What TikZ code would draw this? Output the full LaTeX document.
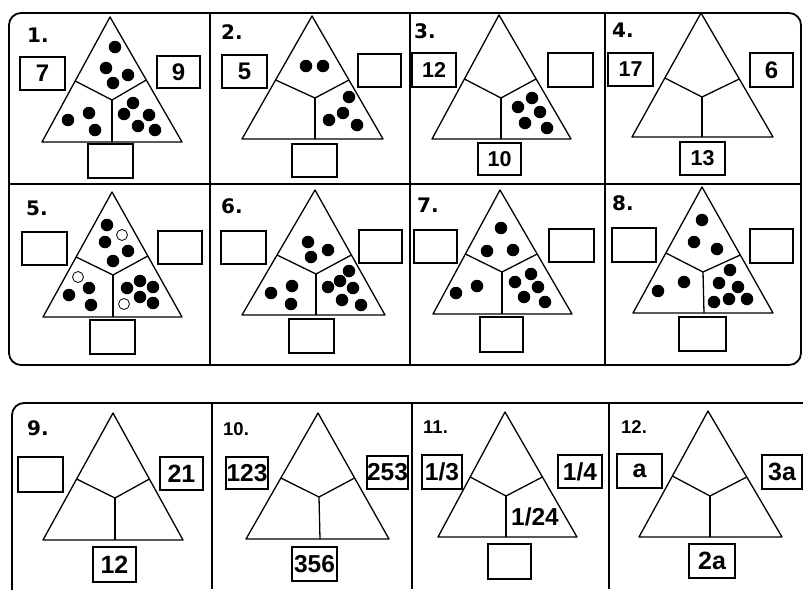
\documentclass[tikz,border=0pt]{standalone}
\usepackage{fontspec}
\setmainfont{Liberation Sans}
\newfontfamily\djfont{DejaVu Sans}
\tikzset{
  frame/.style={line width=1.8pt, rounded corners=12pt},
  sep/.style={line width=1.6pt},
  tri/.style={line width=1.3pt, line join=round},
  box/.style={draw, line width=1.3pt, inner sep=0pt, font=\bfseries\fontsize{21.5}{21.5}\selectfont},
  bigbox/.style={box, font=\bfseries\fontsize{24}{24}\selectfont},
  lowbox/.style={box, font=\bfseries\fontsize{25}{25}\selectfont},
  widebox/.style={box, font=\bfseries\fontsize{24.5}{24.5}\selectfont},
  dot/.style={circle, fill=black, inner sep=0pt, minimum size=12.5pt},
  odot/.style={circle, draw, line width=0.8pt, inner sep=0pt, minimum size=11pt},
  num/.style={anchor=base west, inner sep=0pt, font=\djfont\bfseries\fontsize{20}{20}\selectfont},
  lownum/.style={anchor=base west, inner sep=0pt, font=\bfseries\fontsize{18.5}{18.5}\selectfont},
}
% name, apex, base-left, base-right, left-junction, right-junction, centre, base-vertical
\newcommand\mytree[8]{%
  \coordinate (#1a) at #2; \coordinate (#1bl) at #3; \coordinate (#1br) at #4;
  \coordinate (#1lj) at #5; \coordinate (#1rj) at #6; \coordinate (#1c) at #7;
  \coordinate (#1bv) at #8;
  \draw[tri] (#1a) -- (#1bl) -- (#1br) -- cycle;
  \draw[tri] (#1lj) -- (#1c) -- (#1rj);
  \draw[tri] (#1c) -- (#1bv);
}
\newcommand\mydotset[3]{%
  \foreach \p [count=\i] in {#3} \node[#2] (#1\i) at \p {};
}
\begin{document}
\begin{tikzpicture}[x=1pt,y=-1pt]
\useasboundingbox (0,0) rectangle (803,589);
\begin{scope}
\clip (0,0) rectangle (803,589);
% ---------- top block ----------
\draw[frame] (9,13) rectangle (801,365);
\draw[sep] (9,184) -- (801,184);
\draw[sep] (210,13) -- (210,365);
\draw[sep] (410,13) -- (410,365);
\draw[sep] (605,13) -- (605,365);
% ---------- bottom block ----------
\draw[frame] (12,403) rectangle (818,625);
\draw[sep] (212,403) -- (212,589);
\draw[sep] (412,403) -- (412,589);
\draw[sep] (609,403) -- (609,589);
\end{scope}

% ---------- labels ----------
\node[num] (n1) at (27,42) {1.};
\node[num] (n2) at (221,39) {2.};
\node[num] (n3) at (414,38) {3.};
\node[num] (n4) at (612,37) {4.};
\node[num] (n5) at (26,215) {5.};
\node[num] (n6) at (221,213) {6.};
\node[num] (n7) at (417,212) {7.};
\node[num] (n8) at (612,210) {8.};
\node[num] (n9) at (27,435) {9.};
\node[lownum] (n10) at (223,435) {10.};
\node[lownum] (n11) at (423,433) {11.};
\node[lownum] (n12) at (621,433) {12.};

% ---------- trees ----------
\mytree{t1}{(110,17)}{(42,142)}{(182,142)}{(75.2,81)}{(146.3,80)}{(112,100)}{(112,142)}
\mytree{t2}{(312,16)}{(242,139)}{(383,139)}{(275.6,80)}{(349,80)}{(315,98)}{(315,139)}
\mytree{t3}{(499,15)}{(432,139)}{(571,139)}{(464.4,79)}{(536,79)}{(501,98)}{(501,139)}
\mytree{t4}{(701,13)}{(632,137)}{(773,137)}{(664.8,78)}{(739.3,79)}{(702,97)}{(702,137)}
\mytree{t5}{(112,192)}{(43,317)}{(182,317)}{(76.1,257)}{(147.8,256)}{(113,275)}{(113,317)}
\mytree{t6}{(315,190)}{(242,315)}{(385,315)}{(277,255)}{(351.4,255)}{(316,274)}{(316,315)}
\mytree{t7}{(500,190)}{(433,314)}{(572,314)}{(465.4,254)}{(537.2,254)}{(502,272)}{(502,314)}
\mytree{t8}{(702,187)}{(633,313)}{(773,313)}{(665.9,253)}{(740.3,255)}{(703,272)}{(704,313)}
\mytree{t9}{(113,413)}{(43,540)}{(183,540)}{(76.6,479)}{(149.4,479)}{(115,498)}{(115,540)}
\mytree{t10}{(318,413)}{(246,539)}{(389,539)}{(280.9,478)}{(354.6,478)}{(319,497)}{(320,539)}
\mytree{t11}{(505,412)}{(438,537)}{(577,537)}{(470.2,477)}{(542.4,477)}{(506,496)}{(506,537)}
\mytree{t12}{(708,411)}{(639,537)}{(782,537)}{(672.4,476)}{(746.8,477)}{(710,496)}{(710,537)}

% ---------- boxes ----------
\node[bigbox, minimum width=45pt, minimum height=33pt] (b1l) at (42.5,73.5) {7};
\node[bigbox, minimum width=43pt, minimum height=32pt] (b1r) at (178.5,72) {9};
\node[box, minimum width=45pt, minimum height=34pt] (b1b) at (110.5,161) {};

\node[bigbox, minimum width=45pt, minimum height=33pt] (b2l) at (244.5,71.5) {5};
\node[box, minimum width=43pt, minimum height=33pt] (b2r) at (379.5,70.5) {};
\node[box, minimum width=45pt, minimum height=33pt] (b2b) at (314.5,160.5) {};

\node[box, minimum width=44pt, minimum height=34pt] (b3l) at (434,70) {12};
\node[box, minimum width=45pt, minimum height=34pt] (b3r) at (570.5,70) {};
\node[box, minimum width=43pt, minimum height=32pt] (b3b) at (499.5,159) {10};

\node[box, minimum width=45pt, minimum height=33pt] (b4l) at (630.5,69.5) {17};
\node[bigbox, minimum width=43pt, minimum height=34pt] (b4r) at (771.5,70) {6};
\node[box, minimum width=45pt, minimum height=33pt] (b4b) at (702.5,158.5) {13};

\node[box, minimum width=45pt, minimum height=33pt] (b5l) at (44.5,248.5) {};
\node[box, minimum width=44pt, minimum height=33pt] (b5r) at (180,247.5) {};
\node[box, minimum width=45pt, minimum height=34pt] (b5b) at (112.5,337) {};

\node[box, minimum width=45pt, minimum height=33pt] (b6l) at (243.5,247.5) {};
\node[box, minimum width=43pt, minimum height=33pt] (b6r) at (380.5,246.5) {};
\node[box, minimum width=45pt, minimum height=34pt] (b6b) at (311.5,336) {};

\node[box, minimum width=43pt, minimum height=33pt] (b7l) at (435.5,246.5) {};
\node[box, minimum width=45pt, minimum height=33pt] (b7r) at (571.5,245.5) {};
\node[box, minimum width=43pt, minimum height=35pt] (b7b) at (501.5,334.5) {};

\node[box, minimum width=44pt, minimum height=34pt] (b8l) at (634,245) {};
\node[box, minimum width=43pt, minimum height=34pt] (b8r) at (771.5,246) {};
\node[box, minimum width=47pt, minimum height=34pt] (b8b) at (702.5,334) {};

\node[lowbox, minimum width=45pt, minimum height=35pt] (b9l) at (40.5,474.5) {};
\node[lowbox, minimum width=43pt, minimum height=33pt] (b9r) at (181.5,473.5) {21};
\node[lowbox, minimum width=43pt, minimum height=35pt] (b9b) at (114.5,564.5) {12};

\node[widebox, minimum width=42pt, minimum height=32pt] (b10l) at (247,473) {123};
\node[widebox, minimum width=41pt, minimum height=33pt] (b10r) at (387.5,472.5) {253};
\node[widebox, minimum width=45pt, minimum height=34pt] (b10b) at (314.5,564) {356};

\node[widebox, minimum width=40pt, minimum height=34pt] (b11l) at (442,472) {1/3};
\node[widebox, minimum width=44pt, minimum height=33pt] (b11r) at (580,471.5) {1/4};
\node[lowbox, minimum width=43pt, minimum height=35pt] (b11b) at (509.5,561.5) {};
\node[inner sep=0pt, font=\bfseries\fontsize{24.5}{24.5}\selectfont] (t11v) at (535,517) {1/24};

\node[lowbox, minimum width=45pt, minimum height=34pt] (b12l) at (639.5,471) {a};
\node[lowbox, minimum width=40pt, minimum height=34pt] (b12r) at (782,472) {3a};
\node[lowbox, minimum width=46pt, minimum height=34pt] (b12b) at (712,561) {2a};

% ---------- dots ----------
\mydotset{d1t}{dot}{(115,47),(106,68),(128,75),(113,83)}
\mydotset{d1l}{dot}{(68,120),(89,113),(95,130)}
\mydotset{d1r}{dot}{(133,103),(124,114),(149,115),(138,126),(155,130)}

\mydotset{d2t}{dot}{(306,66),(323,66)}
\mydotset{d2r}{dot}{(349,97),(343,113),(329,120),(357,125)}

\mydotset{d3r}{dot}{(518,107),(532,98),(540,112),(525,123),(547,128)}

\mydotset{d5t}{dot}{(107,225),(105,242),(128,251),(113,261)}
\mydotset{d5to}{odot}{(122,235)}
\mydotset{d5l}{dot}{(89,288),(69,295),(91,305)}
\mydotset{d5lo}{odot}{(78,277)}
\mydotset{d5r}{dot}{(140,281),(127,288),(153,287),(140,297),(153,303)}
\mydotset{d5ro}{odot}{(124,304)}

\mydotset{d6t}{dot}{(308,242),(311,257),(328,250)}
\mydotset{d6l}{dot}{(271,293),(292,286),(291,304)}
\mydotset{d6r}{dot}{(349,271),(340,281),(328,287),(353,288),(342,300),(361,305)}

\mydotset{d7t}{dot}{(501,228),(487,251),(513,250)}
\mydotset{d7l}{dot}{(456,293),(477,286)}
\mydotset{d7r}{dot}{(531,274),(515,282),(538,287),(524,297),(545,302)}

\mydotset{d8t}{dot}{(702,220),(694,242),(717,249)}
\mydotset{d8l}{dot}{(658,291),(684,282)}
\mydotset{d8r}{dot}{(730,270),(719,283),(738,287),(714,302),(729,299),(747,299)}
\end{tikzpicture}
\end{document}
